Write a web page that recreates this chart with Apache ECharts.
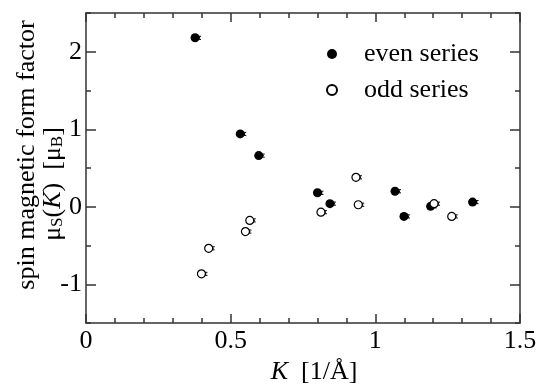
<!DOCTYPE html>
<html><head><meta charset="utf-8">
<script src="https://cdn.jsdelivr.net/npm/echarts@6/dist/echarts.min.js"></script>
<style>html,body{margin:0;padding:0;background:#fff}#c{width:540px;height:386px}</style>
</head><body><div id="c"></div>
<script>
// ---- data ----
const evenK   = [0.377, 0.533, 0.597, 0.800, 0.843, 1.068, 1.099, 1.191, 1.336];
const evenVal = [2.18, 0.94, 0.66, 0.18, 0.04, 0.20, -0.125, 0.005, 0.06];
const evenErr = [0.02, 0.02, 0.02, 0.02, 0.02, 0.02, 0.02, 0.02, 0.02];
const oddK    = [0.399, 0.424, 0.551, 0.566, 0.812, 0.933, 0.941, 1.203, 1.264];
const oddVal  = [-0.866, -0.536, -0.32, -0.176, -0.07, 0.38, 0.026, 0.04, -0.125];
const oddErr  = [0.02, 0.02, 0.02, 0.02, 0.02, 0.02, 0.02, 0.02, 0.02];
const xTickLabels = [0, 0.5, 1, 1.5];
const yTickLabels = [-1, 0, 1, 2];
const seriesNames = ['even series', 'odd series'];

const FONT = "'Liberation Serif', 'Times New Roman', serif";
const FS = 26;
const AX = '#333';
const lineStyle = {color: AX, width: 1.5};

function xAx(pos, showLabel) {
  return {
    type: 'value', position: pos, min: 0, max: 1.5, interval: 0.5,
    axisLine: {show: true, onZero: false, lineStyle},
    axisTick: {show: true, inside: true, length: 9, lineStyle},
    minorTick: {show: true, splitNumber: 5, length: 5, lineStyle},
    splitLine: {show: false}, minorSplitLine: {show: false},
    axisLabel: {show: showLabel, fontSize: FS, fontFamily: FONT, color: '#000', margin: 5,
                customValues: xTickLabels},
    name: showLabel ? '{i|K}  [1/Å]' : '',
    nameLocation: 'middle', nameGap: 34,
    nameTextStyle: {fontSize: FS, fontFamily: FONT, color: '#000', padding: [0, 0, 0, 22],
      rich: {i: {fontStyle: 'italic', fontSize: FS, fontFamily: FONT, color: '#000'}}}
  };
}
function yAx(pos, major, showLabel) {
  const a = {
    type: 'value', position: pos, min: -1.5, max: 2.5, interval: 0.5,
    axisLine: {show: major, onZero: false, lineStyle},
    axisTick: {show: true, inside: true, length: major ? 10 : 5, lineStyle},
    splitLine: {show: false},
    axisLabel: {show: showLabel, fontSize: FS, fontFamily: FONT, color: '#000', margin: 4}
  };
  if (major) { a.axisTick.customValues = yTickLabels; a.axisLabel.customValues = yTickLabels; }
  return a;
}

function errRender(params, api) {
  const x = api.value(0), y = api.value(1), e = api.value(2);
  const p = api.coord([x, y]);
  const lo = api.coord([x, y - e]);
  const hi = api.coord([x, y + e]);
  const bx = p[0] + 4;
  const st = {stroke: '#000', lineWidth: 1};
  return {type: 'group', children: [
    {type: 'line', shape: {x1: bx, y1: lo[1], x2: bx, y2: hi[1]}, style: st},
    {type: 'line', shape: {x1: bx - 1, y1: lo[1], x2: bx + 2, y2: lo[1]}, style: st},
    {type: 'line', shape: {x1: bx - 1, y1: hi[1], x2: bx + 2, y2: hi[1]}, style: st},
    {type: 'line', shape: {x1: p[0], y1: p[1], x2: bx + 1, y2: p[1]}, style: st}
  ]};
}

const chart = echarts.init(document.getElementById('c'), null, {renderer: 'canvas'});
chart.setOption({
  animation: false,
  backgroundColor: '#fff',
  grid: {left: 86, right: 20, top: 13, bottom: 63, containLabel: false, outerBoundsMode: 'none'},
  xAxis: [xAx('bottom', true), xAx('top', false)],
  yAxis: [yAx('left', true, true), yAx('left', false, false), yAx('right', true, false), yAx('right', false, false)],
  legend: {
    data: seriesNames, orient: 'vertical', left: 321, top: 36,
    itemWidth: 10, itemHeight: 10, itemGap: 10,
    textStyle: {fontSize: FS, fontFamily: FONT, color: '#000', lineHeight: 26, padding: [0, 0, 0, 22]}
  },
  graphic: [
    {type: 'text', x: 27, y: 155, rotation: Math.PI / 2,
     style: {text: 'spin magnetic form factor', font: FS + "px 'Liberation Serif'", fill: '#000',
             align: 'center', verticalAlign: 'middle'}},
    {type: 'text', x: 52, y: 184, rotation: Math.PI / 2,
     style: {text: '{n|μ}{s|S}{n|(}{i|K}{n|)  [μ}{s|B}{n|]}', fill: '#000',
             align: 'center', verticalAlign: 'middle',
             rich: {
               n: {fontSize: FS, fontFamily: FONT, color: '#000', lineHeight: 28, verticalAlign: 'bottom'},
               i: {fontSize: FS, fontFamily: FONT, fontStyle: 'italic', color: '#000', lineHeight: 28, verticalAlign: 'bottom'},
               s: {fontSize: 17, fontFamily: FONT, color: '#000', lineHeight: 17, verticalAlign: 'bottom'}
             }}}
  ],
  series: [
    {type: 'custom', name: 'even err', renderItem: errRender, z: 1, silent: true,
     data: evenK.map((k, i) => [k, evenVal[i], evenErr[i]])},
    {type: 'custom', name: 'odd err', renderItem: errRender, z: 1, silent: true,
     data: oddK.map((k, i) => [k, oddVal[i], oddErr[i]])},
    {type: 'scatter', name: seriesNames[0], symbol: 'circle', symbolSize: 9, z: 3,
     itemStyle: {color: '#000', opacity: 1},
     data: evenK.map((k, i) => [k, evenVal[i]])},
    {type: 'scatter', name: seriesNames[1], symbol: 'circle', symbolSize: 8, z: 3,
     itemStyle: {color: '#fff', borderColor: '#000', borderWidth: 1.2, opacity: 1},
     data: oddK.map((k, i) => [k, oddVal[i]])}
  ]
});
</script></body></html>
